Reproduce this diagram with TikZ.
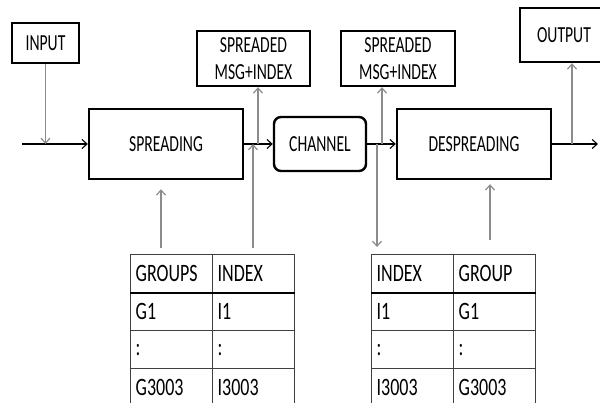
\documentclass[tikz,border=0pt]{standalone}
\usepackage{fontspec}
\newfontfamily\labfont[FakeStretch=0.68]{Carlito}
\newfontfamily\cellfont[FakeStretch=0.72]{Carlito}
\usetikzlibrary{arrows.meta,calc}

\definecolor{tabline}{HTML}{404040}
\definecolor{vline}{HTML}{8C8C8C}

\tikzset{
  block/.style={draw=black, line width=2.4pt, inner sep=0pt, align=center,
    font=\labfont\fontsize{23}{27}\selectfont},
  cell/.style={draw=tabline, line width=1.3pt, anchor=north west,
    minimum width=82pt, minimum height=38pt, text width=72pt,
    inner xsep=5pt, inner ysep=0pt, align=left,
    font=\cellfont\fontsize{25}{28}\selectfont},
  flow/.style={draw=black, line width=1.2pt,
    -{Straight Barb[length=5pt,width=9pt,line width=1.1pt]}},
  tap/.style={draw=vline, line width=1.5pt,
    -{Straight Barb[length=5pt,width=9pt,line width=1.2pt]}},
}

\begin{document}
\begin{tikzpicture}[x=1pt,y=-1pt]
\useasboundingbox (0,0) rectangle (600,403);
\clip (0,0) rectangle (600,403);

% processing blocks
\node[block, minimum width=67pt, minimum height=40pt] (input) at (45.5,43) {INPUT};
\node[block, minimum width=154pt, minimum height=70pt] (spread) at (166,144) {SPREADING};
\node[block, minimum width=113pt, minimum height=55pt] (sp1) at (253.5,58.5) {SPREADED\\MSG+INDEX};
\node[block, minimum width=92pt, minimum height=54pt, rounded corners=7pt] (chan) at (320,144) {CHANNEL};
\node[block, minimum width=114pt, minimum height=55pt] (sp2) at (398,58.5) {SPREADED\\MSG+INDEX};
\node[block, minimum width=154pt, minimum height=70pt] (desp) at (474,144) {DESPREADING};
\node[block, minimum width=88pt, minimum height=54pt] (output) at (564,35) {OUTPUT};

% lookup table at the transmitter
\foreach \r/\a/\b in {0/GROUPS/INDEX, 1/G1/I1, 2/:/:, 3/G3003/I3003}{
  \node[cell] (ta\r) at (130,{254+38*\r}) {\a};
  \node[cell] (tb\r) at (212,{254+38*\r}) {\b};
}
\draw[black, line width=2.4pt] (ta0.south west) -- (tb0.south east);

% lookup table at the receiver
\foreach \r/\a/\b in {0/INDEX/GROUP, 1/I1/G1, 2/:/:, 3/I3003/G3003}{
  \node[cell] (ua\r) at (371,{254+38*\r}) {\a};
  \node[cell] (ub\r) at (453,{254+38*\r}) {\b};
}
\draw[black, line width=2.4pt] (ua0.south west) -- (ub0.south east);

% main signal path
\coordinate (src) at (22,144);
\coordinate (sink) at (598,144);
\draw[flow] (src) -- (src -| spread.west);
\draw[flow] (spread.east) -- (spread.east -| chan.west);
\draw[flow] (chan.east) -- (chan.east -| desp.west);
\draw[flow] (desp.east) -- (sink);

% input and output taps
\draw[tap] (input.south) -- (input.south |- src);
\coordinate (po) at (572,144);
\draw[tap] (po) -- (po |- output.south);

% transmitter side taps
\coordinate (pa) at (258,144);
\draw[tap] (pa) -- (pa |- sp1.south);
\coordinate (ga) at (161,248);
\draw[tap, shorten >=9pt] (ga) -- (ga |- spread.south);
\coordinate (ia) at (253,248);
\draw[tap] (ia) -- (ia |- spread.east);

% receiver side taps
\coordinate (pb) at (382,144);
\draw[tap] (pb) -- (pb |- sp2.south);
\coordinate (qb) at (377,144);
\coordinate (qe) at (377,247);
\draw[tap] (qb) -- (qe);
\coordinate (gb) at (490,240);
\draw[tap, shorten >=4pt] (gb) -- (gb |- desp.south);
\end{tikzpicture}
\end{document}
